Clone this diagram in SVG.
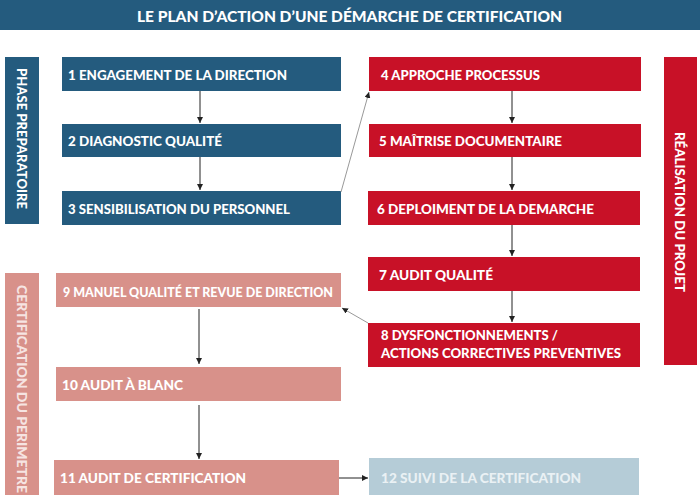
<svg xmlns="http://www.w3.org/2000/svg" width="700" height="495" viewBox="0 0 700 495">
<style>
text{font-family:Lato,"Open Sans","Liberation Sans",sans-serif;font-weight:900;fill:#fff}
.t{font-size:14px}
.lab{font-size:13.5px}
.blue{fill:#245b7e}
.red{fill:#c81127}
.pink{fill:#d8918a}
.lblue{fill:#b5ccd7}
.c{stroke:#222;stroke-width:1;fill:none}
.g{stroke:#999;stroke-width:1;fill:none}
</style>
<defs>
<marker id="ah" viewBox="0 0 10 10" refX="10" refY="5" markerWidth="6" markerHeight="6" orient="auto" markerUnits="userSpaceOnUse"><path d="M0,0L10,5L0,10z" fill="#222"/></marker>
</defs>
<rect width="700" height="495" fill="#fff"/>
<g id="title">
<rect x="0" y="0" width="700" height="30" class="blue"/>
<text x="137" y="22" style="font-size:15.5px" textLength="425" lengthAdjust="spacingAndGlyphs">LE PLAN D’ACTION D’UNE DÉMARCHE DE CERTIFICATION</text>
</g>
<g id="label-preparatoire">
<rect x="5" y="57" width="34" height="167" class="blue"/>
<text class="lab" transform="translate(17,68) rotate(90)" textLength="141" lengthAdjust="spacingAndGlyphs">PHASE PREPARATOIRE</text>
</g>
<g id="label-realisation">
<rect x="664" y="57" width="33" height="308" class="red"/>
<text class="lab" transform="translate(675,132) rotate(90)" style="font-size:12.5px" textLength="160" lengthAdjust="spacingAndGlyphs">RÉALISATION DU PROJET</text>
</g>
<g id="label-certification">
<rect x="5" y="273" width="34" height="222" class="pink"/>
<text class="lab" transform="translate(17,285) rotate(90)" style="fill:#f6e4e2" textLength="208" lengthAdjust="spacingAndGlyphs">CERTIFICATION DU PERIMETRE</text>
</g>
<g id="n1"><rect x="62" y="57" width="279" height="34" class="blue"/><text class="t" x="68" y="80" textLength="219" lengthAdjust="spacingAndGlyphs">1 ENGAGEMENT DE LA DIRECTION</text></g>
<g id="n2"><rect x="62" y="124" width="279" height="33" class="blue"/><text class="t" x="68" y="146" textLength="154" lengthAdjust="spacingAndGlyphs">2 DIAGNOSTIC QUALITÉ</text></g>
<g id="n3"><rect x="62" y="191" width="279" height="34" class="blue"/><text class="t" x="68" y="214" textLength="222" lengthAdjust="spacingAndGlyphs">3 SENSIBILISATION DU PERSONNEL</text></g>
<g id="n4"><rect x="369" y="57" width="272" height="34" class="red"/><text class="t" x="381" y="80" textLength="159" lengthAdjust="spacingAndGlyphs">4 APPROCHE PROCESSUS</text></g>
<g id="n5"><rect x="369" y="124" width="272" height="33" class="red"/><text class="t" x="379" y="146" textLength="183" lengthAdjust="spacingAndGlyphs">5 MAÎTRISE DOCUMENTAIRE</text></g>
<g id="n6"><rect x="368" y="191" width="272" height="34" class="red"/><text class="t" x="377" y="214" textLength="217" lengthAdjust="spacingAndGlyphs">6 DEPLOIMENT DE LA DEMARCHE</text></g>
<g id="n7"><rect x="368" y="257" width="272" height="34" class="red"/><text class="t" x="379" y="280" textLength="114" lengthAdjust="spacingAndGlyphs">7 AUDIT QUALITÉ</text></g>
<g id="n8"><rect x="368" y="323" width="272" height="44" class="red"/><text class="t" x="381" y="340" textLength="177" lengthAdjust="spacingAndGlyphs">8 DYSFONCTIONNEMENTS /</text><text class="t" x="381" y="358" textLength="240" lengthAdjust="spacingAndGlyphs">ACTIONS CORRECTIVES PREVENTIVES</text></g>
<g id="n9"><rect x="56" y="273" width="285" height="34" class="pink"/><text class="t" x="63" y="297" textLength="270" lengthAdjust="spacingAndGlyphs">9 MANUEL QUALITÉ ET REVUE DE DIRECTION</text></g>
<g id="n10"><rect x="56" y="367" width="285" height="34" class="pink"/><text class="t" x="62" y="390" textLength="121" lengthAdjust="spacingAndGlyphs">10 AUDIT À BLANC</text></g>
<g id="n11"><rect x="54" y="460" width="285" height="35" class="pink"/><text class="t" x="60" y="483" textLength="186" lengthAdjust="spacingAndGlyphs">11 AUDIT DE CERTIFICATION</text></g>
<g id="n12"><rect x="369" y="458" width="270" height="37" class="lblue"/><text class="t" x="381" y="483" style="fill:#eaf1f4" textLength="200" lengthAdjust="spacingAndGlyphs">12 SUIVI DE LA CERTIFICATION</text></g>
<g id="connectors">
<line class="c" x1="200" y1="91" x2="200" y2="123" marker-end="url(#ah)"/>
<line class="c" x1="200" y1="157" x2="200" y2="190" marker-end="url(#ah)"/>
<line class="g" x1="341" y1="192" x2="369" y2="92" marker-end="url(#ah)"/>
<line class="c" x1="512" y1="91" x2="512" y2="123" marker-end="url(#ah)"/>
<line class="c" x1="512" y1="157" x2="512" y2="190" marker-end="url(#ah)"/>
<line class="c" x1="512" y1="225" x2="512" y2="256" marker-end="url(#ah)"/>
<line class="c" x1="512" y1="291" x2="512" y2="322" marker-end="url(#ah)"/>
<line class="g" x1="368" y1="323" x2="342" y2="308" marker-end="url(#ah)"/>
<line class="c" x1="199" y1="309" x2="199" y2="364" marker-end="url(#ah)"/>
<line class="c" x1="199" y1="405" x2="199" y2="459" marker-end="url(#ah)"/>
<line class="c" x1="339" y1="478" x2="368" y2="478" marker-end="url(#ah)"/>
</g>
</svg>
